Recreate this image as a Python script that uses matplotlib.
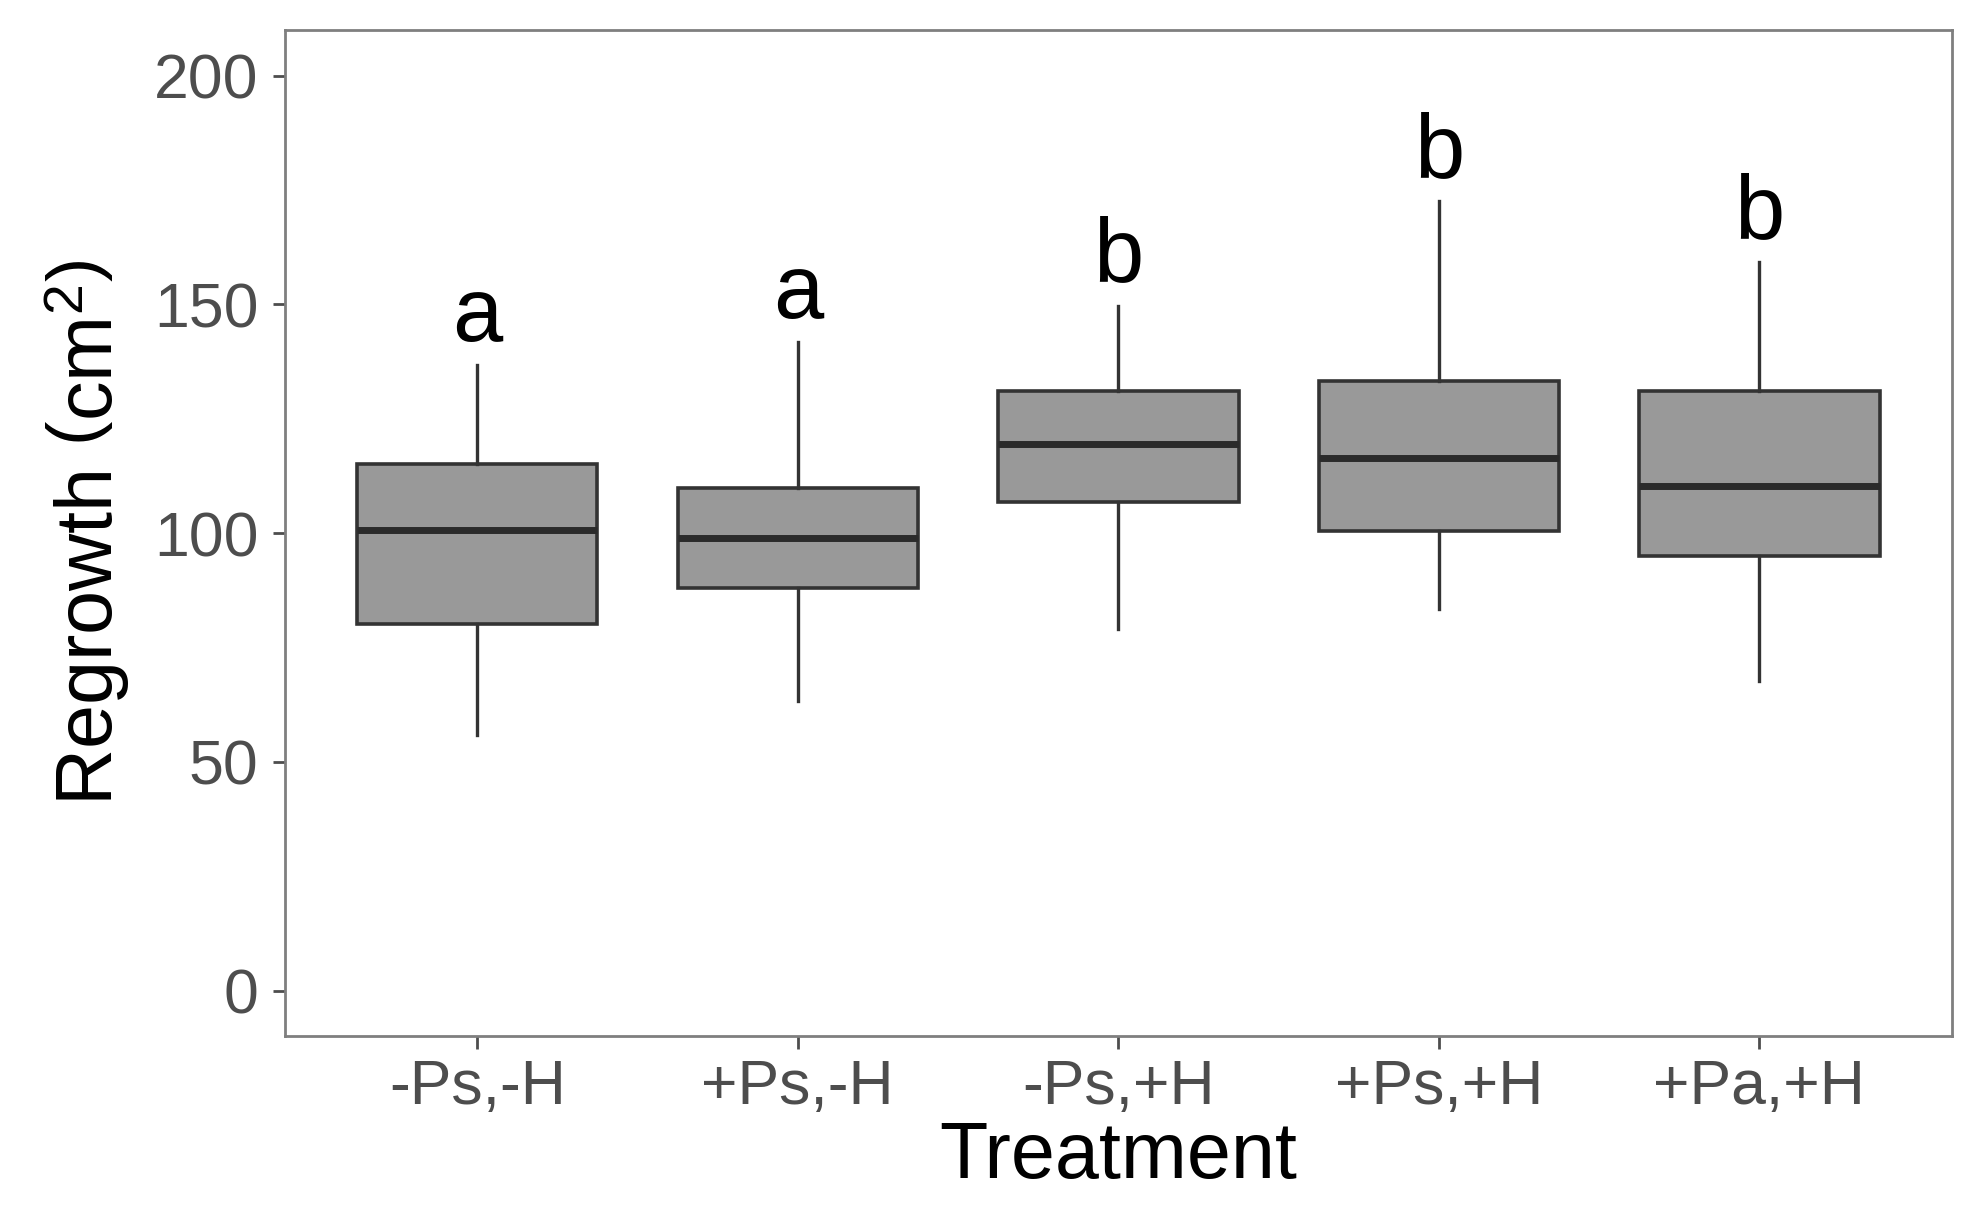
import matplotlib
matplotlib.use("Agg")
import matplotlib.pyplot as plt

plt.rcParams['font.family'] = ['Liberation Sans', 'DejaVu Sans']
plt.rcParams['mathtext.fontset'] = 'custom'
plt.rcParams['mathtext.rm'] = 'Liberation Sans'
plt.rcParams['mathtext.it'] = 'Liberation Sans'

categories = ["-Ps,-H", "+Ps,-H", "-Ps,+H", "+Ps,+H", "+Pa,+H"]
whisker_low = [55.8, 63.3, 79.0, 83.4, 67.7]
q1 = [80.1, 88.0, 106.7, 100.4, 94.9]
median = [100.7, 99.0, 119.4, 116.4, 110.3]
q3 = [115.0, 109.8, 131.0, 133.2, 131.0]
whisker_high = [136.8, 141.7, 149.7, 172.5, 159.3]
letters = ["a", "a", "b", "b", "b"]
yticks = [0, 50, 100, 150, 200]

fig = plt.figure(figsize=(19.79, 12.23), dpi=100)
ax = fig.add_axes([0.144, 0.1527, 0.8422, 0.8228])

stats = []
for i, c in enumerate(categories):
    stats.append(dict(label=c, whislo=whisker_low[i], q1=q1[i], med=median[i],
                      q3=q3[i], whishi=whisker_high[i], fliers=[]))

positions = list(range(1, len(categories) + 1))
ax.bxp(stats, positions=positions, widths=0.75, patch_artist=True, showcaps=False,
       boxprops=dict(facecolor='#999999', edgecolor='#333333', linewidth=2.6),
       medianprops=dict(color='#2b2b2b', linewidth=5, solid_capstyle='butt'),
       whiskerprops=dict(color='#333333', linewidth=2.4))

for p, wh, l in zip(positions, whisker_high, letters):
    ax.text(p, wh + 5.3, l, ha='center', va='baseline', fontsize=65, color='black')

ax.set_xlim(0.4, 5.6)
ax.set_ylim(-10, 210)
ax.set_yticks(yticks)
ax.set_yticklabels([str(t) for t in yticks])
ax.set_xticks(positions)
ax.set_xticklabels(categories)

for s in ax.spines.values():
    s.set_color('#7f7f7f')
    s.set_linewidth(2.0)

ax.tick_params(axis='both', colors='#4d4d4d', labelsize=45, length=9, width=2.0)
ax.tick_params(axis='x', pad=7)
ax.tick_params(axis='y', pad=10)

ax.set_xlabel("Treatment", fontsize=57, color='black', labelpad=2)
ax.set_ylabel("Regrowth $\\left(\\mathrm{cm}^{2}\\right)$", fontsize=57, color='black', labelpad=16)

fig.savefig("out.png", dpi=100)
